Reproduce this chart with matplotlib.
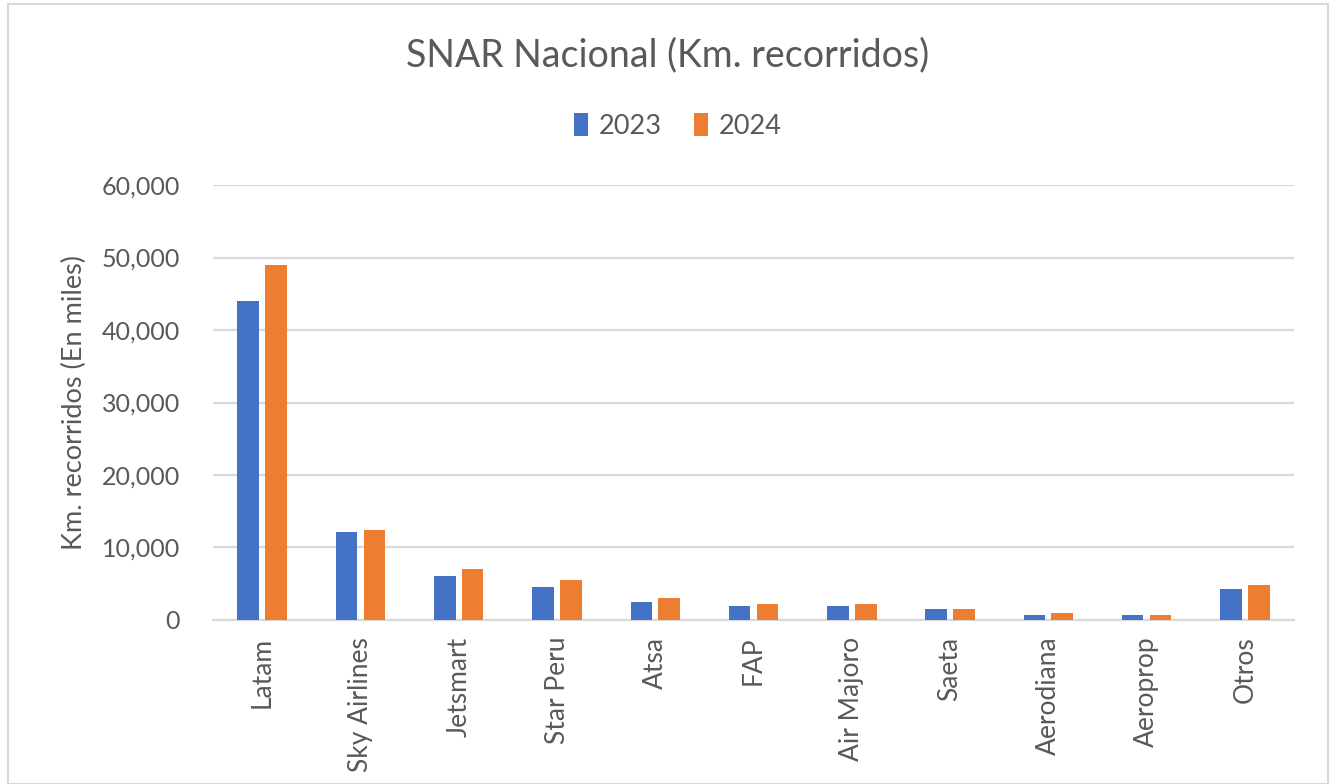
import numpy as np
import matplotlib.pyplot as plt
from matplotlib.patches import Rectangle
from matplotlib.ticker import FuncFormatter

categorias = ["Latam", "Sky Airlines", "Jetsmart", "Star Peru", "Atsa", "FAP",
              "Air Majoro", "Saeta", "Aerodiana", "Aeroprop", "Otros"]
km_2023 = [44050, 12100, 6100, 4560, 2490, 1890, 1890, 1570, 690, 690, 4290]
km_2024 = [48900, 12450, 7000, 5500, 3080, 2170, 2170, 1570, 970, 660, 4880]

azul = "#4472C4"
naranja = "#ED7D31"
gris_txt = "#595959"
gris_grid = "#D9D9D9"

plt.rcParams['font.family'] = ['Lato', 'DejaVu Sans']

fig = plt.figure(figsize=(13.35, 7.84), dpi=100)
ax = fig.add_axes([0.1596, 0.2092, 0.8097, 0.5548])

x = np.arange(len(categorias))
w = 0.22
off = 0.142
ax.bar(x - off, km_2023, width=w, color=azul, label="2023", zorder=3)
ax.bar(x + off, km_2024, width=w, color=naranja, label="2024", zorder=3)

ax.set_xlim(-0.5, len(categorias) - 0.5)
ax.set_ylim(0, 60000)
ax.set_yticks(np.arange(0, 60001, 10000))
ax.yaxis.set_major_formatter(FuncFormatter(lambda v, p: f"{int(v):,}"))
ax.grid(axis="y", color=gris_grid, linewidth=1.6, zorder=0)
ax.set_axisbelow(True)

for s in ["top", "right", "left"]:
    ax.spines[s].set_visible(False)
ax.spines["bottom"].set_color(gris_grid)
ax.spines["bottom"].set_linewidth(1.6)

ax.set_xticks(x)
ax.set_xticklabels(categorias, rotation=90, fontsize=19, color=gris_txt)
ax.tick_params(axis="both", length=0, pad=12)
ax.tick_params(axis="y", labelsize=18, labelcolor=gris_txt, pad=24)

ax.set_ylabel("Km. recorridos (En miles)", fontsize=19.5, color=gris_txt, labelpad=10)

fig.text(0.5, 0.93, "SNAR Nacional (Km. recorridos)", ha="center", va="center",
         fontsize=27, color=gris_txt)

fig.legend(loc="center", bbox_to_anchor=(0.508, 0.839), ncol=2, frameon=False,
           fontsize=19.5, handlelength=0.5, handleheight=0.9, handletextpad=0.4,
           columnspacing=1.2, labelcolor=gris_txt)

fig.patches.append(Rectangle((0.006, 0.0), 0.989, 0.995, transform=fig.transFigure,
                             fill=False, edgecolor=gris_grid, linewidth=1.5))

fig.savefig("out.png", dpi=100)
